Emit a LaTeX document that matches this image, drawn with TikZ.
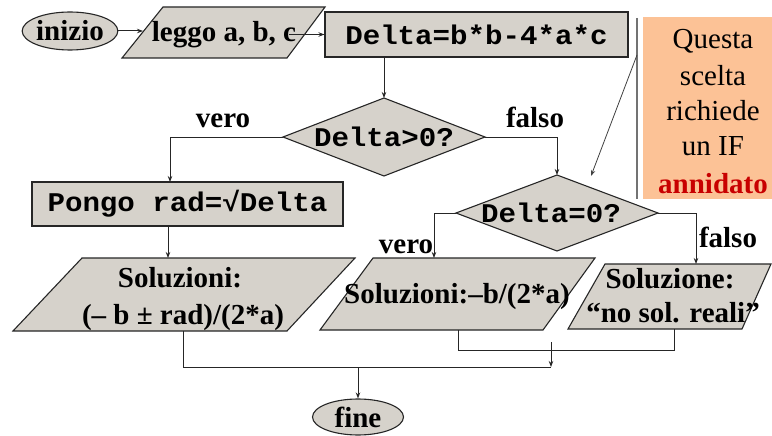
\documentclass[tikz,border=0pt]{standalone}
\usepackage{fontspec}
\setmainfont{Liberation Serif}
\setmonofont[FakeStretch=1.08]{Liberation Mono}
\usetikzlibrary{arrows.meta,shapes.geometric}
\definecolor{boxfill}{RGB}{214,210,203}
\definecolor{notefill}{RGB}{252,194,150}
\definecolor{notered}{RGB}{200,0,0}
\begin{document}
\begin{tikzpicture}[x=1pt,y=-1pt,
  shapeline/.style={draw=black!85,line width=1.1pt,fill=boxfill},
  conn/.style={draw=black!85,line width=1pt},
  arr/.style={conn,-{Stealth[length=6pt,width=4.5pt]}},
  lbl/.style={font=\fontsize{29}{33}\selectfont\bfseries,inner sep=0},
  basetxt/.style={lbl,anchor=base},
  code/.style={font=\fontsize{27}{31}\selectfont\ttfamily\bfseries,inner sep=0},
  notetxt/.style={font=\fontsize{29}{33}\selectfont,inner sep=0,anchor=base},
]
\useasboundingbox (0,0) rectangle (772,436);

% note box
\path[fill=notefill] (643,17) rectangle (772,199);
\draw[line width=1.6pt,black!55] (637,18) -- (637,199);
\node[notetxt] (n1) at (713,49) {Questa};
\node[notetxt] (n2) at (713,85) {scelta};
\node[notetxt] (n3) at (713,121) {richiede};
\node[notetxt] (n4) at (713,156) {un IF};
\node[notetxt,font=\fontsize{29}{33}\selectfont\bfseries,text=notered] (n5) at (713,193) {annidato};
\coordinate (noteA) at (637,55);
\coordinate (noteTip) at (591,176);
\draw[arr,line width=0.8pt,black!75] (noteA) -- (noteTip);

% start
\node[shapeline,ellipse,minimum width=90pt,minimum height=38pt,lbl] (inizio) at (70,31) {inizio};

% input
\path[shapeline] (163,7) -- (325,7) -- (287,58) -- (122,58) -- cycle;
\node[basetxt] (leggo) at (224,42) {leggo a, b, c};
\coordinate (leggoL) at (143,31);
\coordinate (leggoR) at (289,34.5);

% delta box
\node[shapeline,rectangle,minimum width=303pt,minimum height=45pt,code] (delta) at (476.5,34.5) {Delta=b*b-4*a*c};

\draw[arr] (inizio.east) -- (leggoL);
\draw[arr] (leggoR) -- (delta.west);

% diamond 1
\coordinate (d1L) at (283,137);
\coordinate (d1T) at (384,98);
\coordinate (d1R) at (485,137);
\coordinate (d1B) at (384,176);
\path[shapeline] (d1L) -- (d1T) -- (d1R) -- (d1B) -- cycle;
\node[code] (d1) at (384,137) {Delta>0?};
\draw[arr] (delta.south -| d1T) -- (d1T);

\node[basetxt] (vero1) at (223,128) {vero};
\node[basetxt] (falso1) at (535,128) {falso};

% pongo
\node[shapeline,rectangle,minimum width=311pt,minimum height=44pt,code] (pongo) at (187.5,204) {Pongo rad=√Delta};
\coordinate (pongoIn) at (170,182);
\draw[arr] (d1L) -| (pongoIn);

% left output
\path[shapeline] (82,258) -- (355,258) -- (287,331) -- (13,331) -- cycle;
\node[basetxt] (solA1) at (180,287) {Soluzioni:};
\node[basetxt] (solA2) at (183,324) {(– b ± rad)/(2*a)};
\coordinate (solAin) at (168,258);
\coordinate (solAout) at (183,331);
\draw[arr] (pongo.south -| solAin) -- (solAin);

% diamond 2
\coordinate (d2L) at (456,213);
\coordinate (d2T) at (557,175);
\coordinate (d2R) at (658,213);
\coordinate (d2B) at (557,251);
\path[shapeline] (d2L) -- (d2T) -- (d2R) -- (d2B) -- cycle;
\node[code] (d2) at (551,213) {Delta=0?};
\draw[arr] (d1R) -| (d2T);

\node[basetxt] (vero2) at (406,253) {vero};
\node[basetxt] (falso2) at (728,247) {falso};

% middle output
\path[shapeline] (373,258) -- (595,258) -- (543,330) -- (320,330) -- cycle;
\node[basetxt] (solB) at (457,303) {Soluzioni:–b/(2*a)};
\coordinate (solBin) at (434,258);
\coordinate (solBout) at (458,330);

% right output
\path[shapeline] (605,264) -- (771,264) -- (742,329) -- (568,329) -- cycle;
\node[basetxt] (solC1) at (670,288) {Soluzione:};
\node[basetxt] (solC2) at (673,322) {“no sol. reali”};
\coordinate (solCin) at (696,264);
\coordinate (solCout) at (674,329);

\draw[arr] (d2L) -| (solBin);
\draw[arr] (d2R) -| (solCin);

% joins
\draw[conn] (solBout) -- ++(0,20) -| (solCout);
\coordinate (joinTop) at (551,342);
\coordinate (join) at (551,367);
\draw[arr] (joinTop) -- (join);
\draw[conn] (solAout) |- (join);

% end
\node[shapeline,ellipse,minimum width=91pt,minimum height=36pt,lbl] (fine) at (358,417) {fine};
\draw[arr] (fine.north |- join) -- (fine.north);
\end{tikzpicture}
\end{document}
